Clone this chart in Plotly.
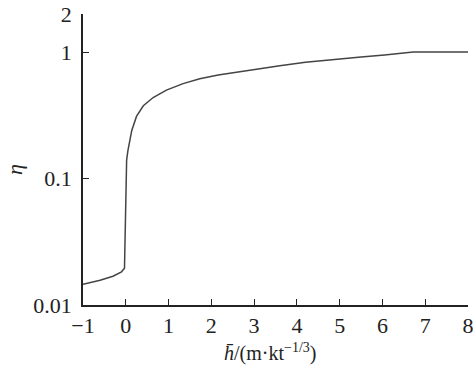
import plotly.graph_objects as go

h_bar = [-1, -0.6, -0.3, -0.1, -0.03, 0.02, 0.05, 0.08, 0.14, 0.25, 0.41, 0.64, 0.95, 1.34, 1.73, 2.16, 2.51, 3.0, 3.6, 4.2, 4.85, 5.5, 6.05, 6.45, 6.72, 8]
eta = [0.0146, 0.0157, 0.0169, 0.0183, 0.0195, 0.14, 0.166, 0.19, 0.24, 0.31, 0.376, 0.437, 0.50, 0.563, 0.616, 0.659, 0.687, 0.73, 0.78, 0.83, 0.875, 0.915, 0.948, 0.975, 1.0, 1.0]

x_ticks = [-1, 0, 1, 2, 3, 4, 5, 6, 7, 8]
y_ticks = [0.01, 0.1, 1, 2]
y_tick_text = ["0.01", "0.1", "1", "2"]

font = dict(family="Liberation Serif, DejaVu Serif, serif", size=22, color="#222")
title_font = dict(family="Liberation Serif, DejaVu Serif, serif", size=20, color="#222")

fig = go.Figure()
fig.add_trace(go.Scatter(x=h_bar, y=eta, mode="lines",
                         line=dict(color="#444", width=1.5), showlegend=False))

fig.update_layout(
    width=473, height=372,
    margin=dict(l=83, r=5, t=14, b=67),
    paper_bgcolor="white", plot_bgcolor="white",
    font=font,
    xaxis=dict(range=[-1, 8], tickvals=x_ticks, ticks="inside", ticklen=6,
               tickcolor="#222", showline=True, linecolor="#222", linewidth=1.5,
               showgrid=False, zeroline=False, tickfont=font,
               ticklabeloverflow="allow", automargin=False),
    yaxis=dict(type="log", range=[-2, 0.30103], tickvals=y_ticks, ticktext=y_tick_text,
               ticks="inside", ticklen=6, tickcolor="#222", showline=True,
               linecolor="#222", linewidth=1.5, showgrid=False, zeroline=False,
               tickfont=font, ticklabelstandoff=5, automargin=False),
    annotations=[
        dict(text="<i>η</i>", xref="paper", yref="paper",
             x=(14 - 83) / 385, y=(305 - 170) / 291, xanchor="center", yanchor="middle",
             textangle=-90, showarrow=False, font=font),
        dict(text="<i>h̄</i>/(m·kt<sup>−1/3</sup>)", xref="paper", yref="paper",
             x=(270 - 83) / 385, y=-(352 - 305) / 291, xanchor="center", yanchor="middle",
             showarrow=False, font=title_font),
    ],
)

fig.write_html("out.html", config={"displayModeBar": False},
               post_script="document.body.style.margin='0';document.body.style.overflow='hidden';")
